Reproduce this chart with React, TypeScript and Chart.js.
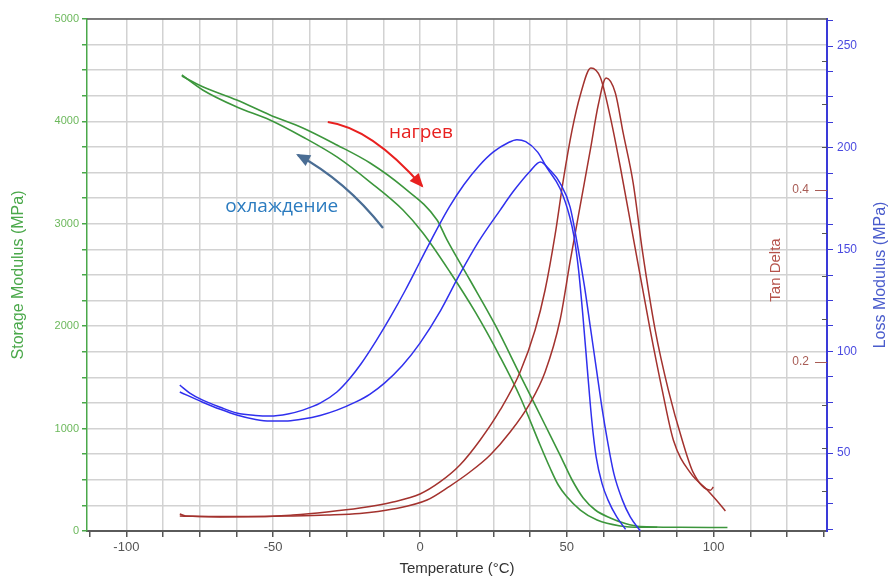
import React, { useEffect, useRef } from 'react';
import { Chart, registerables } from 'chart.js';

Chart.register(...registerables);

// ---- Storage modulus E' (MPa), heating run ----
const storageHeatT = [-81.1, -74.0, -62.4, -51.1, -39.9, -28.3, -17.0, -5.8, 5.8, 9.2, 17.0, 25.6, 34.1, 42.6, 47.7, 51.8, 55.6, 59.7, 64.8, 69.9, 75.0, 88.6, 104.7];
const storageHeatE = [4443, 4339, 4209, 4063, 3936, 3770, 3594, 3360, 3037, 2842, 2451, 2012, 1523, 1035, 742, 498, 322, 205, 127, 73, 44, 36, 34];

// ---- Storage modulus E' (MPa), cooling run ----
const storageCoolT = [-81.1, -74.0, -62.4, -51.1, -39.9, -28.3, -17.0, -5.8, 1.0, 10.2, 18.8, 27.3, 34.1, 40.9, 44.3, 47.1, 49.8, 54.6, 60.3, 68.2, 75.0, 80.8];
const storageCoolE = [4453, 4307, 4141, 4014, 3848, 3653, 3408, 3135, 2910, 2529, 2139, 1699, 1309, 840, 615, 449, 342, 205, 107, 49, 36, 36];

// ---- Loss modulus E'' (MPa), curve peaking near 33 °C ----
const lossAT = [-81.8, -78.4, -74.0, -68.0, -62.4, -56.0, -51.1, -45.0, -39.9, -34.0, -28.3, -24, -20, -15, -10, -5, 0, 5, 10, 15, 20, 25, 30, 33, 36, 40, 43.3, 47.7, 51.0, 52.5, 54.0, 55.5, 57.0, 58.5, 60.0, 62.0, 64.0, 67.0, 70.0];
const lossAV = [83.4, 79.5, 76.0, 72.5, 69.7, 68.5, 68.2, 69.2, 71.1, 74.5, 80, 86.5, 94, 105, 117, 130, 144, 158, 171, 182, 191, 198, 202.5, 204, 203, 198, 190, 180, 166, 156, 140, 117, 91, 66, 48, 35, 27, 18.6, 12.5];

// ---- Loss modulus E'' (MPa), curve peaking near 41 °C ----
const lossBT = [-81.8, -74.0, -68.0, -62.4, -56.0, -51.1, -45.0, -39.9, -34.0, -28.3, -22.0, -17.0, -12.0, -6.0, 0, 7.0, 13.6, 20.0, 27.3, 32.0, 37.5, 41.0, 44.3, 47.7, 51.1, 53.9, 56.0, 58.0, 60.0, 62.0, 63.8, 66.0, 68.9, 71.6, 75.0];
const lossBV = [80, 75, 71.5, 68.7, 66.5, 65.7, 65.8, 66.7, 68.5, 71.1, 75, 79, 84.5, 93, 104, 120, 138, 154, 169.4, 179, 188.5, 193, 189, 182.7, 171, 150, 132, 112, 92, 72, 56.4, 40, 27, 18.6, 11.8];

// ---- Tan delta, curve peaking near 58 °C ----
const tanAT = [-81.8, -79.8, -68.2, -54.6, -43.3, -31.7, -20.5, -9.2, 0, 6.8, 13.6, 20.5, 27.3, 34.1, 39.2, 42.6, 46.0, 48.8, 51.8, 54.6, 58.2, 61.4, 64.8, 68.2, 72.6, 78.4, 82.5, 86.3, 92.1, 97.9, 100.9, 104.0];
const tanAV = [0.0233, 0.0209, 0.0203, 0.0203, 0.0221, 0.0256, 0.0302, 0.0372, 0.0465, 0.0605, 0.0802, 0.1093, 0.1442, 0.1884, 0.2372, 0.2837, 0.3477, 0.4116, 0.4698, 0.5105, 0.5419, 0.531, 0.485, 0.427, 0.345, 0.237, 0.167, 0.109, 0.071, 0.051, 0.0395, 0.0267];

// ---- Tan delta, curve peaking near 63 °C ----
const tanBT = [-81.8, -68.2, -43.3, -31.7, -20.5, -9.2, 2.4, 10.2, 17.0, 23.9, 30.7, 37.5, 42.6, 47.7, 51.1, 54.6, 58.0, 60.7, 63.4, 66.5, 69.2, 72.6, 75.7, 80.1, 84.6, 89.3, 93.1, 98.9, 99.9];
const tanBV = [0.021, 0.0198, 0.021, 0.022, 0.0238, 0.029, 0.0395, 0.0558, 0.0721, 0.0919, 0.1186, 0.1523, 0.1884, 0.2488, 0.3163, 0.3826, 0.4465, 0.4988, 0.5302, 0.513, 0.466, 0.408, 0.33, 0.237, 0.167, 0.109, 0.071, 0.051, 0.0546];

// ---- tick labels ----
const tempTickLabels = [-100, -50, 0, 50, 100];
const storageTickLabels = [0, 1000, 2000, 3000, 4000, 5000];
const lossTickLabels = [50, 100, 150, 200, 250];
const tanTickLabels = [0.2, 0.4];

// ---- annotations (data coordinates: °C, MPa on storage axis) ----
const heatLabel = { text: 'нагрев', t: 0.3, e: 3887 };
const heatArrow = [[-31.4, 3994], [-16.7, 3936], [0.7, 3369]];
const coolLabel = { text: 'охлаждение', t: -47.1, e: 3164 };
const coolArrow = [[-12.6, 2959], [-25.4, 3423], [-41.6, 3672]];

const GREEN_LINE = '#3c963c';
const GREEN_AXIS = '#4aa84a';
const GREEN_TEXT = '#6cb85c';
const BLUE_LINE = '#3030ee';
const BLUE_AXIS = '#3a3ad8';
const BLUE_TEXT = '#4a4ae0';
const BLUE_TITLE = '#4a5ccc';
const RED_LINE = '#a3322e';
const TAN_TEXT = '#a85c55';
const TAN_TITLE = '#b5524a';
const GRID = '#d2d2d2';
const AXIS_GRAY = '#5a5a5a';
const NARROW = "'Liberation Sans Narrow', 'Liberation Sans', Arial, sans-serif";
const SANS = "'Liberation Sans', Arial, sans-serif";

const near = (list: number[], v: number) => list.some((l) => Math.abs(l - v) < 1e-6);
const pts = (xs: number[], ys: number[]) => xs.map((x, i) => ({ x, y: ys[i] }));

const decor = {
  id: 'decor',
  afterDatasetsDraw(chart: any) {
    const { ctx, chartArea: ca, scales } = chart;
    const xs = scales.x;
    const ys = scales.y;
    const yt = scales.yTan;
    ctx.save();
    // top frame line
    ctx.strokeStyle = AXIS_GRAY;
    ctx.lineWidth = 1.5;
    ctx.beginPath();
    ctx.moveTo(ca.left, ca.top);
    ctx.lineTo(ca.right, ca.top);
    ctx.stroke();

    // tan delta tick marks (inside, left of loss axis)
    for (let i = 1; i * 0.05 < yt.max; i++) {
      const v = i * 0.05;
      const y = Math.round(yt.getPixelForValue(v)) + 0.5;
      const major = near(tanTickLabels, v);
      ctx.strokeStyle = major ? TAN_TEXT : '#555';
      ctx.lineWidth = 1;
      ctx.beginPath();
      ctx.moveTo(ca.right - (major ? 12 : 5), y);
      ctx.lineTo(ca.right, y);
      ctx.stroke();
    }

    // Tan Delta title
    ctx.save();
    ctx.translate(ca.right - 51, (ca.top + ca.bottom) / 2 - 5);
    ctx.rotate(-Math.PI / 2);
    ctx.fillStyle = TAN_TITLE;
    ctx.font = `15px ${SANS}`;
    ctx.textAlign = 'center';
    ctx.textBaseline = 'middle';
    ctx.fillText('Tan Delta', 0, 0);
    ctx.restore();

    // Loss modulus title
    ctx.save();
    ctx.translate(chart.width - 9, (ca.top + ca.bottom) / 2);
    ctx.rotate(-Math.PI / 2);
    ctx.fillStyle = BLUE_TITLE;
    ctx.font = `16px ${SANS}`;
    ctx.textAlign = 'center';
    ctx.textBaseline = 'middle';
    ctx.fillText('Loss Modulus (MPa)', 0, 0);
    ctx.restore();

    // arrows
    const drawArrow = (p: number[][], color: string) => {
      const P = p.map(([t, e]) => [xs.getPixelForValue(t), ys.getPixelForValue(e)]);
      ctx.strokeStyle = color;
      ctx.fillStyle = color;
      ctx.lineWidth = 2.2;
      ctx.beginPath();
      ctx.moveTo(P[0][0], P[0][1]);
      ctx.quadraticCurveTo(P[1][0], P[1][1], P[2][0], P[2][1]);
      ctx.stroke();
      const dx = P[2][0] - P[1][0];
      const dy = P[2][1] - P[1][1];
      const len = Math.hypot(dx, dy);
      const ux = dx / len, uy = dy / len;
      const L = 12, W = 6;
      ctx.beginPath();
      ctx.moveTo(P[2][0] + ux * 2, P[2][1] + uy * 2);
      ctx.lineTo(P[2][0] - ux * L - uy * W, P[2][1] - uy * L + ux * W);
      ctx.lineTo(P[2][0] - ux * L + uy * W, P[2][1] - uy * L - ux * W);
      ctx.closePath();
      ctx.fill();
    };
    drawArrow(heatArrow, '#e8201f');
    drawArrow(coolArrow, '#4a6d94');

    ctx.font = "19px 'Open Sans', 'DejaVu Sans', sans-serif";
    ctx.textAlign = 'center';
    ctx.textBaseline = 'middle';
    ctx.fillStyle = '#e8201f';
    ctx.fillText(heatLabel.text, xs.getPixelForValue(heatLabel.t), ys.getPixelForValue(heatLabel.e));
    ctx.fillStyle = '#2b7bbf';
    ctx.fillText(coolLabel.text, xs.getPixelForValue(coolLabel.t), ys.getPixelForValue(coolLabel.e));
    ctx.restore();
  },
};

export default function App() {
  const ref = useRef<HTMLCanvasElement | null>(null);
  useEffect(() => {
    document.body.style.margin = '0';
    const canvas = ref.current;
    if (!canvas) return;
    const line = (data: any[], color: string, axis: string, w = 1.6) => ({
      data,
      borderColor: color,
      borderWidth: w,
      pointRadius: 0,
      fill: false,
      yAxisID: axis,
      cubicInterpolationMode: 'monotone' as const,
    });
    const chart = new Chart(canvas, {
      type: 'line',
      data: {
        datasets: [
          line(pts(lossAT, lossAV), BLUE_LINE, 'yLoss', 1.5),
          line(pts(lossBT, lossBV), BLUE_LINE, 'yLoss', 1.5),
          line(pts(tanAT, tanAV), RED_LINE, 'yTan', 1.5),
          line(pts(tanBT, tanBV), RED_LINE, 'yTan', 1.5),
          line(pts(storageHeatT, storageHeatE), GREEN_LINE, 'y'),
          line(pts(storageCoolT, storageCoolE), GREEN_LINE, 'y'),
        ],
      },
      options: {
        animation: false,
        responsive: false,
        devicePixelRatio: 1,
        layout: { padding: { top: 19, left: 0, right: 0, bottom: 0 } },
        plugins: { legend: { display: false }, tooltip: { enabled: false } },
        scales: {
          x: {
            type: 'linear',
            position: 'bottom',
            min: -113.4,
            max: 138.6,
            afterFit: (s: any) => { s.height = 48; },
            ticks: {
              stepSize: 12.5,
              includeBounds: false,
              autoSkip: false,
              maxRotation: 0,
              padding: 3,
              color: '#555',
              font: { family: NARROW, size: 13 },
              callback: (v: any) => (near(tempTickLabels, Number(v)) ? String(Math.round(Number(v))) : ''),
            },
            grid: {
              color: (c: any) => (c.tick && (Math.abs(c.tick.value + 112.5) < 1e-6 || Math.abs(c.tick.value - 137.5) < 1e-6) ? 'rgba(0,0,0,0)' : GRID),
              lineWidth: 1.5,
              tickLength: 6,
              tickColor: '#555',
            },
            border: { color: AXIS_GRAY, width: 2 },
            title: { display: true, text: 'Temperature (°C)', color: '#333', font: { family: NARROW, size: 15 }, padding: { top: 0, bottom: 1 } },
          },
          y: {
            type: 'linear',
            position: 'left',
            min: 0,
            max: 5000,
            afterFit: (s: any) => { s.width = 87; },
            ticks: {
              stepSize: 250,
              includeBounds: false,
              autoSkip: false,
              padding: 3,
              color: GREEN_TEXT,
              font: { family: SANS, size: 11 },
              callback: (v: any) => (near(storageTickLabels, Number(v)) ? String(v) : ''),
            },
            grid: { color: GRID, lineWidth: 1.5, tickLength: 5, tickColor: GREEN_AXIS },
            border: { color: GREEN_AXIS, width: 1.5 },
            title: { display: true, text: 'Storage Modulus (MPa)', color: GREEN_AXIS, font: { family: SANS, size: 16 }, padding: { top: 9, bottom: 0 } },
          },
          yTan: {
            type: 'linear',
            position: 'right',
            weight: 0,
            min: 0.0035,
            max: 0.5988,
            afterFit: (s: any) => { s.width = 0; },
            ticks: {
              stepSize: 0.05,
              includeBounds: false,
              autoSkip: false,
              mirror: true,
              padding: -18,
              color: TAN_TEXT,
              font: { family: SANS, size: 12 },
              callback: (v: any) => (near(tanTickLabels, Number(v)) ? Number(v).toFixed(1) : ''),
            },
            grid: { display: false, drawOnChartArea: false },
            border: { display: false },
          },
          yLoss: {
            type: 'linear',
            position: 'right',
            weight: 1,
            min: 11.7,
            max: 263.3,
            afterFit: (s: any) => { s.width = 63; },
            ticks: {
              stepSize: 12.5,
              includeBounds: false,
              autoSkip: false,
              padding: 4,
              color: BLUE_TEXT,
              font: { family: SANS, size: 12 },
              callback: (v: any) => (near(lossTickLabels, Number(v)) ? String(v) : ''),
            },
            grid: { drawOnChartArea: false, tickLength: 6, tickColor: BLUE_AXIS },
            border: { color: BLUE_AXIS, width: 2 },
          },
        },
      },
      plugins: [decor],
    });
    return () => chart.destroy();
  }, []);
  return (
    <div style={{ width: 890, height: 579, background: '#fff' }}>
      <canvas ref={ref} width={890} height={579} style={{ display: 'block', width: 890, height: 579 }} />
    </div>
  );
}
